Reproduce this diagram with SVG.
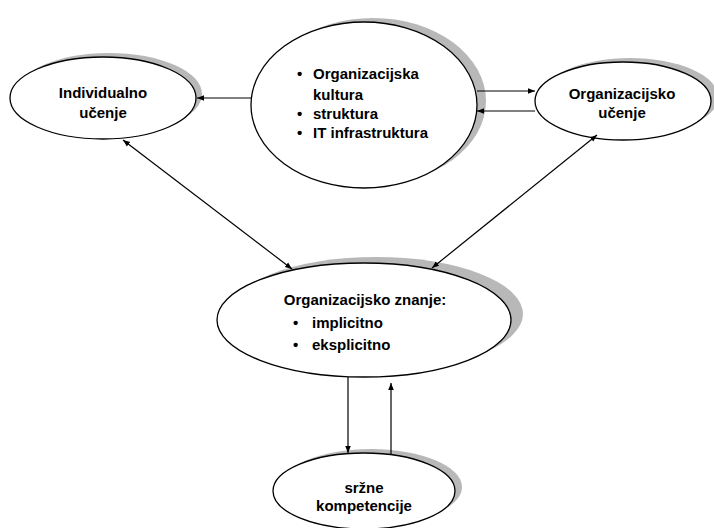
<svg xmlns="http://www.w3.org/2000/svg" width="714" height="528" viewBox="0 0 714 528">
<defs>
<marker id="ah" viewBox="0 0 10 10" refX="10" refY="5" markerWidth="7" markerHeight="7" orient="auto-start-reverse" markerUnits="userSpaceOnUse">
<path d="M0,1 L10,5 L0,9 z" fill="#000"/>
</marker>
<style>
.sh{fill:#b8b8b8;stroke:none}
.el{fill:#fff;stroke:#000;stroke-width:1.3}
.t{font-family:"Liberation Sans",Arial,sans-serif;font-weight:bold;font-size:15px;fill:#000}
.c{text-anchor:middle}
.ln{stroke:#000;stroke-width:1.2;fill:none}
</style>
</defs>
<rect width="714" height="528" fill="#fff"/>
<g id="individualno">
<ellipse class="sh" cx="109" cy="94" rx="93" ry="41"/>
<ellipse class="el" cx="103" cy="98" rx="93" ry="41"/>
<text class="t c" x="103" y="98">Individualno</text>
<text class="t c" x="103" y="118">učenje</text>
</g>
<g id="kultura">
<ellipse class="sh" cx="373" cy="101" rx="113" ry="83"/>
<ellipse class="el" cx="364" cy="105" rx="113" ry="83"/>
<text class="t" x="297" y="79">•</text><text class="t" x="313" y="79">Organizacijska</text>
<text class="t" x="313" y="100">kultura</text>
<text class="t" x="297" y="119">•</text><text class="t" x="313" y="119">struktura</text>
<text class="t" x="297" y="138">•</text><text class="t" x="313" y="138">IT infrastruktura</text>
</g>
<g id="organizacijsko-ucenje">
<ellipse class="sh" cx="630" cy="97" rx="88" ry="39"/>
<ellipse class="el" cx="623" cy="101" rx="88" ry="39"/>
<text class="t c" x="622" y="99">Organizacijsko</text>
<text class="t c" x="622" y="118">učenje</text>
</g>
<g id="znanje">
<ellipse class="sh" cx="376" cy="314" rx="147" ry="57"/>
<ellipse class="el" cx="364" cy="320" rx="147" ry="57"/>
<text class="t c" x="365" y="305">Organizacijsko znanje:</text>
<text class="t" x="293" y="328">•</text><text class="t" x="312" y="328">implicitno</text>
<text class="t" x="293" y="350">•</text><text class="t" x="312" y="350">eksplicitno</text>
</g>
<g id="srzne">
<ellipse class="sh" cx="371" cy="487" rx="91" ry="38"/>
<ellipse class="el" cx="364" cy="491" rx="91" ry="38"/>
<text class="t c" x="364" y="493">sržne</text>
<text class="t c" x="364" y="511">kompetencije</text>
</g>
<g id="connectors">
<line class="ln" x1="251" y1="98" x2="197" y2="98" marker-end="url(#ah)"/>
<line class="ln" x1="477" y1="91" x2="535" y2="91" marker-end="url(#ah)"/>
<line class="ln" x1="535" y1="111" x2="477" y2="111" marker-end="url(#ah)"/>
<line class="ln" x1="123" y1="140" x2="292" y2="269" marker-start="url(#ah)" marker-end="url(#ah)"/>
<line class="ln" x1="597" y1="135" x2="432" y2="268" marker-start="url(#ah)" marker-end="url(#ah)"/>
<line class="ln" x1="348" y1="377" x2="348" y2="453" marker-end="url(#ah)"/>
<line class="ln" x1="391" y1="454" x2="391" y2="383" marker-end="url(#ah)"/>
</g>
</svg>
